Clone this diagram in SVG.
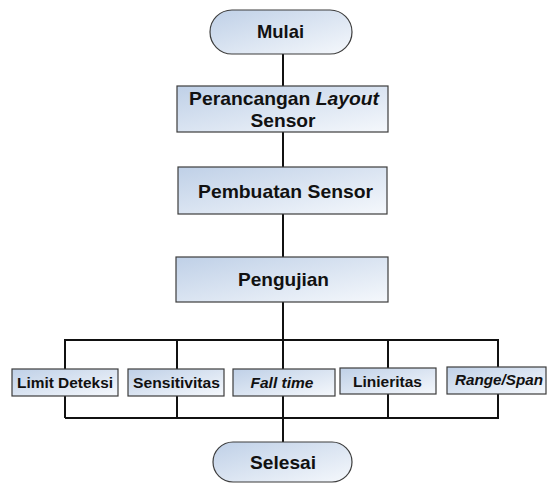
<svg xmlns="http://www.w3.org/2000/svg" width="547" height="484" viewBox="0 0 547 484">
<defs>
<linearGradient id="g" x1="0" y1="0" x2="1" y2="1">
<stop offset="0" stop-color="#bfd0e7"/>
<stop offset="1" stop-color="#f5f8fc"/>
</linearGradient>
<style>
.n{fill:url(#g);stroke:#3c3c3c;stroke-width:1.2}
.t{font-family:"Liberation Sans",Arial,sans-serif;font-weight:bold;fill:#111;text-anchor:middle}
.b{font-size:18.5px}
.s{font-size:15px}
.i{font-style:italic}
.c{stroke:#111;stroke-width:2;fill:none}
</style>
</defs>
<rect width="547" height="484" fill="#fff"/>
<g id="connectors">
<line class="c" x1="283" y1="54" x2="283" y2="442"/>
<polyline class="c" points="65,418 65,340 498,340 498,418 65,418"/>
<line class="c" x1="177" y1="340" x2="177" y2="418"/>
<line class="c" x1="388" y1="340" x2="388" y2="418"/>
</g>
<g id="mulai">
<rect class="n" x="210" y="10" width="142" height="44" rx="22" ry="22"/>
<text class="t b" x="280.5" y="37.7" textLength="47" lengthAdjust="spacingAndGlyphs">Mulai</text>
</g>
<g id="perancangan">
<rect class="n" x="177" y="86" width="211" height="46"/>
<text class="t b" x="284" y="105" textLength="190" lengthAdjust="spacingAndGlyphs">Perancangan <tspan class="i">Layout</tspan></text>
<text class="t b" x="283" y="126.7" textLength="65" lengthAdjust="spacingAndGlyphs">Sensor</text>
</g>
<g id="pembuatan">
<rect class="n" x="178" y="167" width="209" height="47"/>
<text class="t b" x="285.5" y="197.7" textLength="175" lengthAdjust="spacingAndGlyphs">Pembuatan Sensor</text>
</g>
<g id="pengujian">
<rect class="n" x="176" y="257" width="212" height="45"/>
<text class="t b" x="283.5" y="285.7" textLength="91" lengthAdjust="spacingAndGlyphs">Pengujian</text>
</g>
<g id="limit">
<rect class="n" x="12" y="369" width="106" height="27"/>
<text class="t s" x="65" y="388" textLength="96" lengthAdjust="spacingAndGlyphs">Limit Deteksi</text>
</g>
<g id="sensitivitas">
<rect class="n" x="128" y="369" width="96" height="27"/>
<text class="t s" x="176.5" y="388" textLength="87" lengthAdjust="spacingAndGlyphs">Sensitivitas</text>
</g>
<g id="falltime">
<rect class="n" x="233" y="369" width="102" height="27"/>
<text class="t s i" x="282" y="388" textLength="63" lengthAdjust="spacingAndGlyphs">Fall time</text>
</g>
<g id="linieritas">
<rect class="n" x="340" y="368" width="96" height="26"/>
<text class="t s" x="387.5" y="387" textLength="69" lengthAdjust="spacingAndGlyphs">Linieritas</text>
</g>
<g id="range">
<rect class="n" x="447" y="367" width="99" height="27"/>
<text class="t s i" x="499" y="385" textLength="88" lengthAdjust="spacingAndGlyphs">Range/Span</text>
</g>
<g id="selesai">
<rect class="n" x="213" y="442" width="139" height="40" rx="20" ry="20"/>
<text class="t b" x="283" y="468.7" textLength="66" lengthAdjust="spacingAndGlyphs">Selesai</text>
</g>
</svg>
